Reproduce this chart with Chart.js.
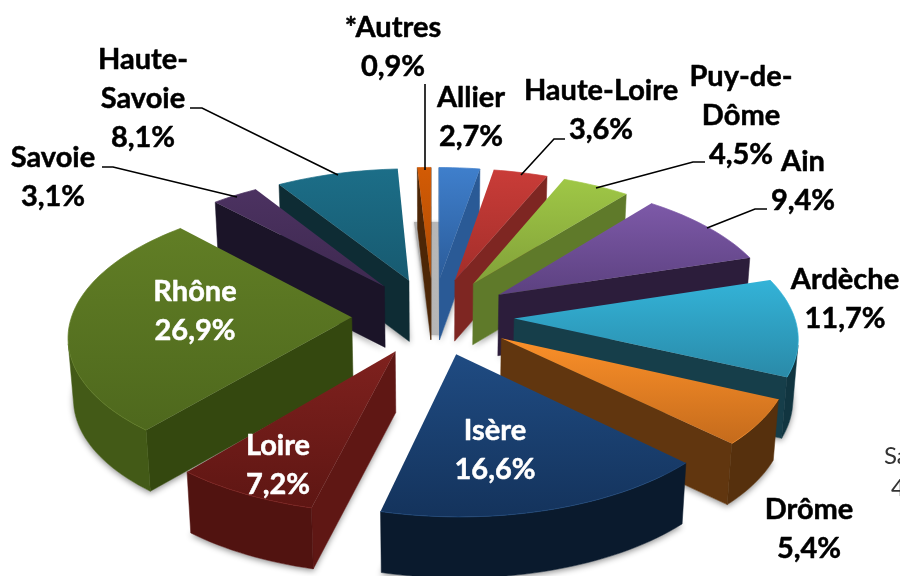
<!DOCTYPE html>
<html><head><meta charset="utf-8">
<style>html,body{margin:0;padding:0;background:#fff}canvas{display:block}</style>
<script src="https://cdn.jsdelivr.net/npm/chart.js@4"></script>
</head><body><canvas id="c" width="900" height="576"></canvas>
<script>
const categories = ["Allier","Haute-Loire","Puy-de-Dôme","Ain","Ardèche","Drôme","Isère","Loire","Rhône","Savoie","Haute-Savoie","*Autres"];
const values = [2.7,3.6,4.5,9.4,11.7,5.4,16.6,7.2,26.9,3.1,8.1,0.9];
const topLight = ["#3f7fcc","#c93c38","#9fc746","#7d59a8","#33b3d8","#fb9029","#1f4b82","#7f211e","#617e25","#4c3261","#1c6e88","#d35b05"];
const topDark  = ["#2b5c9a","#a32e2a","#82a139","#5c4180","#2a8aa8","#c56b1c","#14335c","#5e1613","#4e681d","#3e2950","#175a70","#b04c04"];
const wallColors = ["#2a5a96","#7e2622","#5f7a2a","#2c1d3b","#163e4a","#61360f","#0b1c31","#5f1714","#34480f","#1b1428","#0e2c34","#4d2606"];
const rimColors  = ["#2a5a96","#7e2622","#5f7a2a","#2c1d3b","#113540","#56300d","#0a1a2d","#511310","#435a17","#1b1428","#0e2c34","#4d2606"];
const labelLines = [["Allier"],["Haute-Loire"],["Puy-de-","Dôme"],["Ain"],["Ardèche"],["Drôme"],["Isère"],["Loire"],["Rhône"],["Savoie"],["Haute-","Savoie"],["*Autres"]];
const labelAnchors = [[471,98],[601,91],[741,77],[803,162],[845,280],[809,510],[495,431],[278,446],[195,292],[53,158],[143,60],[393,28]];
const labelColors = ["#000","#000","#000","#000","#000","#000","#fff","#fff","#fff","#000","#000","#000"];
const leaders = [[[425,84],[425,170]],[[190,108],[202,108],[338,175]],[[102,167],[113,167],[237,197]],[[565,139],[554,139],[521,175]],[[705,162],[693,162],[596,188]],[[767,209],[755,209],[707,228]]];

const CX=433, CY=316, RX=280, KY=133, PX=0.12, PY=0.12, OFF=0.29, DEPTH=61, LOW=0.985;
function proj(U,V,low){
  let x=CX+RX*U/(1+PX*V), y=CY-KY*V/(1+PY*V);
  if(low){x=CX+(x-CX)*LOW; y+=DEPTH;}
  return [x,y];
}
function poly(ctx,pts){ctx.beginPath();pts.forEach((p,i)=>i?ctx.lineTo(p[0],p[1]):ctx.moveTo(p[0],p[1]));ctx.closePath();}
function area(pts){let s=0;for(let k=0;k<pts.length;k++){const a=pts[k],b=pts[(k+1)%pts.length];s+=a[0]*b[1]-b[0]*a[1];}return s;}
function wedge(el){
  const a0=el.startAngle,a1=el.endAngle,m=(a0+a1)/2;
  const U0=OFF*Math.cos(m),V0=-OFF*Math.sin(m);
  const n=Math.max(4,Math.ceil((a1-a0)/0.03)),rim=[];
  for(let i=0;i<=n;i++){const a=a0+(a1-a0)*i/n;rim.push([U0+Math.cos(a),V0-Math.sin(a)]);}
  return {apex:[U0,V0],rim,midV:V0-0.6*Math.sin(m)};
}
const pie3d={id:'pie3d',
  beforeDatasetDraw(chart,args){
    const ctx=chart.ctx,els=chart.getDatasetMeta(0).data;
    ctx.save();
    const order=els.map((el,i)=>({i,w:wedge(el)})).sort((a,b)=>b.w.midV-a.w.midV);
    order.forEach(({w})=>{
      const pts=[proj(w.apex[0],w.apex[1],true),...w.rim.map(r=>proj(r[0],r[1],true))];
      ctx.save();ctx.shadowColor='rgba(0,0,0,.45)';ctx.shadowBlur=6;ctx.shadowOffsetY=2;ctx.fillStyle='#fff';poly(ctx,pts);ctx.fill();ctx.restore();
    });
    const g=ctx.createLinearGradient(414,0,440,0);
    g.addColorStop(0,'#b0b0b0');g.addColorStop(1,'#b8b8b8');
    ctx.save();ctx.shadowColor='rgba(0,0,0,.3)';ctx.shadowBlur=3;ctx.fillStyle=g;
    poly(ctx,[[414,222],[441,222],[441,335],[431,335]]);ctx.fill();ctx.restore();
    order.forEach(({i,w})=>{
      const A=proj(w.apex[0],w.apex[1]),Ab=proj(w.apex[0],w.apex[1],true);
      const T=w.rim.map(r=>proj(r[0],r[1])),B=w.rim.map(r=>proj(r[0],r[1],true));
      const wall=(top,bot,col)=>{
        ctx.fillStyle=col;ctx.strokeStyle=col;ctx.lineWidth=.5;
        poly(ctx,[...top,...bot.slice().reverse()]);ctx.fill();ctx.stroke();
      };
      const last=T.length-1;
      if(area([T[last],A,Ab,B[last]])<0)wall([T[last],A],[B[last],Ab],wallColors[i]);
      if(area([A,T[0],B[0],Ab])<0)wall([A,T[0]],[Ab,B[0]],wallColors[i]);
      let run=null;
      for(let k=0;k<=last;k++){
        const vis=k<last&&area([T[k],T[k+1],B[k+1],B[k]])<0;
        if(vis){ if(!run)run=[k,k]; run[1]=k+1; }
        else if(run){ wall(T.slice(run[0],run[1]+1),B.slice(run[0],run[1]+1),rimColors[i]); run=null; }
      }
      const ys=[A[1],...T.map(p=>p[1])],y0=Math.min(...ys),y1=Math.max(...ys);
      const gr=ctx.createLinearGradient(0,y0,0,y1);
      gr.addColorStop(0,topLight[i]);gr.addColorStop(1,topDark[i]);
      ctx.fillStyle=gr;poly(ctx,[A,...T]);ctx.fill();
      ctx.strokeStyle=topLight[i];ctx.globalAlpha=.7;ctx.lineWidth=1;
      ctx.beginPath();T.forEach((p,k)=>k?ctx.lineTo(p[0],p[1]):ctx.moveTo(p[0],p[1]));ctx.stroke();ctx.globalAlpha=1;
    });
    ctx.restore();
    return false;
  },
  afterDatasetsDraw(chart){
    const ctx=chart.ctx;ctx.save();
    ctx.strokeStyle='#000';ctx.lineWidth=1.6;
    leaders.forEach(l=>{ctx.beginPath();l.forEach((p,i)=>i?ctx.lineTo(p[0],p[1]):ctx.moveTo(p[0],p[1]));ctx.stroke();});
    ctx.font='700 29px Lato';ctx.textAlign='center';ctx.textBaseline='middle';ctx.lineJoin='round';ctx.lineWidth=.5;
    categories.forEach((c,i)=>{
      const [x,y]=labelAnchors[i];const lines=[...labelLines[i],values[i].toFixed(1).replace('.',',')+'%'];
      ctx.fillStyle=labelColors[i];ctx.strokeStyle=labelColors[i];
      lines.forEach((t,k)=>{ctx.fillText(t,x,y+k*38.7);ctx.strokeText(t,x,y+k*38.7);});
    });
    ctx.font='400 24px Lato';ctx.fillStyle='#333';ctx.textAlign='left';
    ctx.fillText('Sa',884,456);ctx.fillText('4',891,488);
    ctx.restore();
  }
};
new Chart(document.getElementById('c'),{type:'pie',
  data:{labels:categories,datasets:[{data:values,backgroundColor:topLight,borderWidth:0}]},
  options:{responsive:false,animation:false,plugins:{legend:{display:false},tooltip:{enabled:false}}},
  plugins:[pie3d]});
</script></body></html>
